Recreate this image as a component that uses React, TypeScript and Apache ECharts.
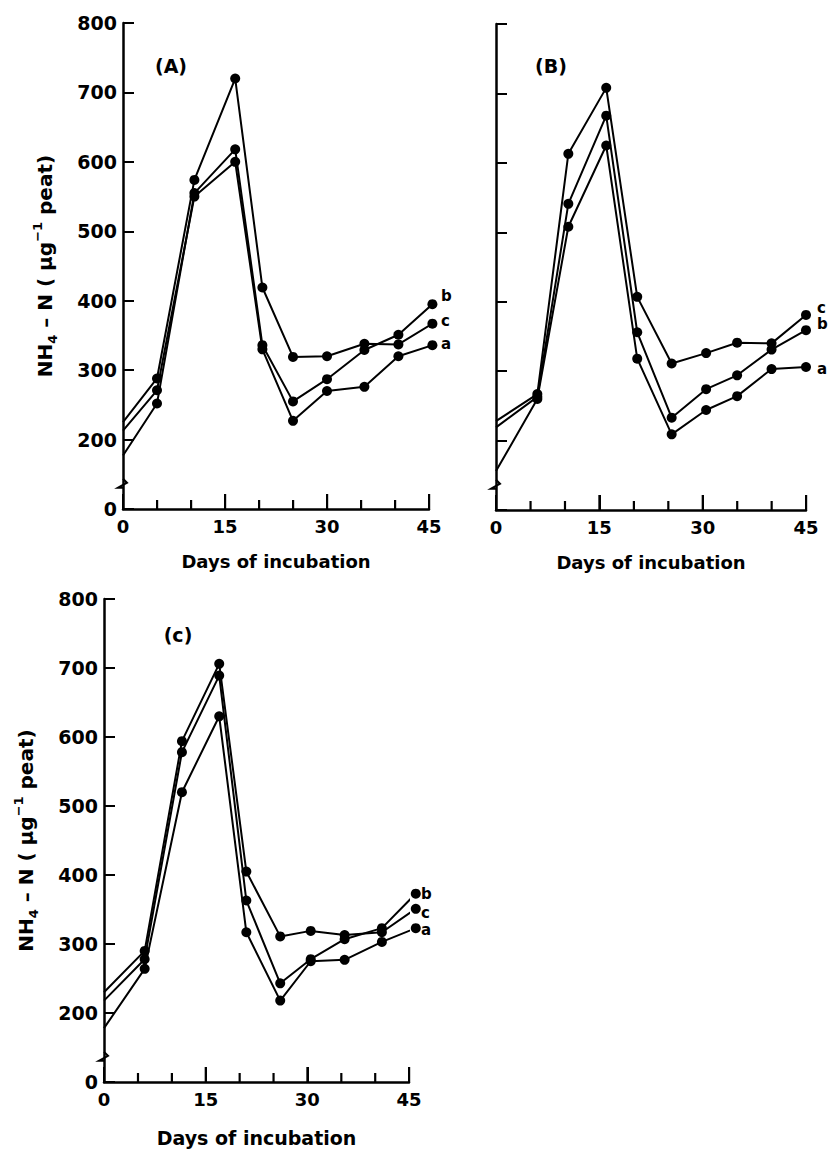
import React, { useEffect, useRef } from "react";
import * as echarts from "echarts";

// ---- data ----
const daysA = [0, 5, 10.5, 16.5, 20.5, 25, 30, 35.5, 40.5, 45.5];
const daysB = [0, 6, 10.5, 16, 20.5, 25.5, 30.5, 35, 40, 45];
const daysC = [0, 6, 11.5, 17, 21, 26, 30.5, 35.5, 41, 46];

const aPanelA = [213, 271, 550, 600, 330, 227, 270, 276, 320, 336];
const bPanelA = [177, 252, 555, 618, 336, 255, 287, 329, 351, 395];
const cPanelA = [225, 288, 574, 720, 419, 319, 320, 338, 337, 367];

const aPanelB = [156, 260, 508, 625, 318, 209, 244, 264, 303, 306];
const bPanelB = [219, 263, 541, 668, 356, 233, 274, 294, 331, 359];
const cPanelB = [228, 267, 613, 708, 407, 311, 326, 341, 340, 381];

const aPanelC = [178, 264, 520, 630, 317, 218, 275, 277, 303, 323];
const bPanelC = [218, 278, 578, 689, 363, 243, 278, 307, 323, 373];
const cPanelC = [230, 290, 594, 706, 405, 311, 319, 313, 317, 351];

const xTickDays = [5, 10, 15, 20, 25, 30, 35, 40, 45];
const xLabelStep = 15;
const panelLabels = ["(A)", "(B)", "(c)"];
const seriesNames = ["a", "b", "c"];
const xAxisTitle = "Days of incubation";
const yBreakValue = 100; // axis is broken: bottom of the axis is labelled 0
const yBreakLabel = "0";

const FONT = "DejaVu Sans";

export default function App() {
  const ref = useRef<HTMLDivElement>(null);

  useEffect(() => {
    if (!ref.current) return;
    const chart = echarts.init(ref.current, null, { renderer: "svg" });

    const grids = [
      { left: 123, top: 23, width: 306, height: 486 },
      { left: 496, top: 24, width: 310, height: 486 },
      { left: 104, top: 599, width: 305, height: 483 },
    ];

    const xAxes = grids.map((_, g) => ({
      type: "value",
      gridIndex: g,
      min: 0,
      max: 45,
      interval: xLabelStep,
      axisLine: { show: true, lineStyle: { color: "#000", width: 2.5 } },
      axisTick: { show: true, inside: true, length: 15, lineStyle: { color: "#000", width: 2 } },
      axisLabel: {
        show: true,
        color: "#000",
        fontFamily: FONT,
        fontWeight: "bold",
        fontSize: 18,
        margin: 8,
      },
      splitLine: { show: false },
      name: xAxisTitle,
      nameLocation: "middle",
      nameGap: g === 2 ? 46 : 43,
      nameTextStyle: {
        color: "#000",
        fontFamily: FONT,
        fontWeight: "bold",
        fontSize: g === 2 ? 19 : 18,
      },
    }));

    const yName = "{n|NH}{s|4}{n| – N ( µg}{p|−1}{n| peat)}";
    const yAxes = grids.map((_, g) => ({
      type: "value",
      gridIndex: g,
      min: yBreakValue,
      max: 800,
      interval: 100,
      axisLine: { show: true, lineStyle: { color: "#000", width: 2.5 } },
      axisTick: { show: true, inside: true, length: 11, lineStyle: { color: "#000", width: 2 } },
      axisLabel: {
        show: g !== 1,
        color: "#000",
        fontFamily: FONT,
        fontWeight: "bold",
        fontSize: 19,
        margin: 6,
        formatter: (v: number) => (v === yBreakValue ? yBreakLabel : String(v)),
      },
      splitLine: { show: false },
      name: g === 1 ? "" : yName,
      nameLocation: "middle",
      nameRotate: 90,
      nameGap: 64,
      nameTextStyle: {
        color: "#000",
        fontFamily: FONT,
        fontWeight: "bold",
        rich: {
          n: { fontSize: 20, fontWeight: "bold", fontFamily: FONT, color: "#000", lineHeight: 28 },
          s: { fontSize: 13, fontWeight: "bold", fontFamily: FONT, color: "#000", lineHeight: 13, verticalAlign: "bottom" },
          p: { fontSize: 13, fontWeight: "bold", fontFamily: FONT, color: "#000", lineHeight: 13, verticalAlign: "top" },
        },
      },
    }));

    const panels = [
      { days: daysA, vals: [aPanelA, bPanelA, cPanelA], offs: [-2, -10, -4] },
      { days: daysB, vals: [aPanelB, bPanelB, cPanelB], offs: [2, -6, -7] },
      { days: daysC, vals: [aPanelC, bPanelC, cPanelC], offs: [0, -6, 0] },
    ];

    const series: any[] = [];
    panels.forEach((p, g) => {
      p.vals.forEach((vals, k) => {
        series.push({
          type: "line",
          name: seriesNames[k] + g,
          xAxisIndex: g,
          yAxisIndex: g,
          clip: false,
          symbol: "circle",
          symbolSize: 10,
          lineStyle: { color: "#000", width: 2 },
          itemStyle: { color: "#000" },
          data: p.days.map((d, i) =>
            i === 0 ? { value: [d, vals[i]], symbol: "none" } : [d, vals[i]]
          ),
          endLabel: {
            show: true,
            formatter: seriesNames[k],
            distance: 11,
            offset: [0, p.offs[k]],
            color: "#000",
            fontFamily: FONT,
            fontWeight: "bold",
            fontSize: 15,
          },
        });
      });
    });

    chart.setOption({
      animation: false,
      backgroundColor: "#fff",
      grid: grids.map((g) => ({ ...g, containLabel: false, outerBoundsMode: "none" })),
      xAxis: xAxes,
      yAxis: yAxes,
      series,
    });

    const labelPos = [
      [171, 66],
      [551, 66],
      [178, 635],
    ];
    const graphics: any[] = [];
    labelPos.forEach((pos, g) => {
      graphics.push({
        type: "text",
        x: pos[0],
        y: pos[1],
        style: {
          text: panelLabels[g],
          fontSize: 19,
          fontWeight: "bold",
          fontFamily: FONT,
          fill: "#000",
          align: "center",
          verticalAlign: "middle",
        },
      });
      const pt = chart.convertToPixel({ gridIndex: g } as any, [0, 135]) as number[];
      if (pt) {
        const x = pt[0];
        const y = pt[1];
        graphics.push({
          type: "polyline",
          shape: {
            points: [
              [x, y - 6],
              [x + 4, y - 2],
              [x - 5, y + 3],
              [x + 1, y + 3],
            ],
          },
          style: { stroke: "#000", lineWidth: 2, fill: "none" },
        });
      }
      // x-axis ticks every 5 days (longer at the labelled steps), placed via the axis scale
      xTickDays.forEach((d) => {
        const tp = chart.convertToPixel({ gridIndex: g } as any, [d, yBreakValue]) as number[];
        if (!tp) return;
        const len = d % xLabelStep === 0 ? 15 : 9;
        graphics.push({
          type: "rect",
          z: 10,
          shape: { x: tp[0] - 1, y: tp[1] - len, width: 2.2, height: len },
          style: { fill: "#000", stroke: "none" },
        });
      });
    });
    chart.setOption({ graphic: graphics });

    return () => chart.dispose();
  }, []);

  return (
    <div
      ref={ref}
      style={{ position: "fixed", left: 0, top: 0, width: 828, height: 1150, background: "#fff" }}
    />
  );
}
